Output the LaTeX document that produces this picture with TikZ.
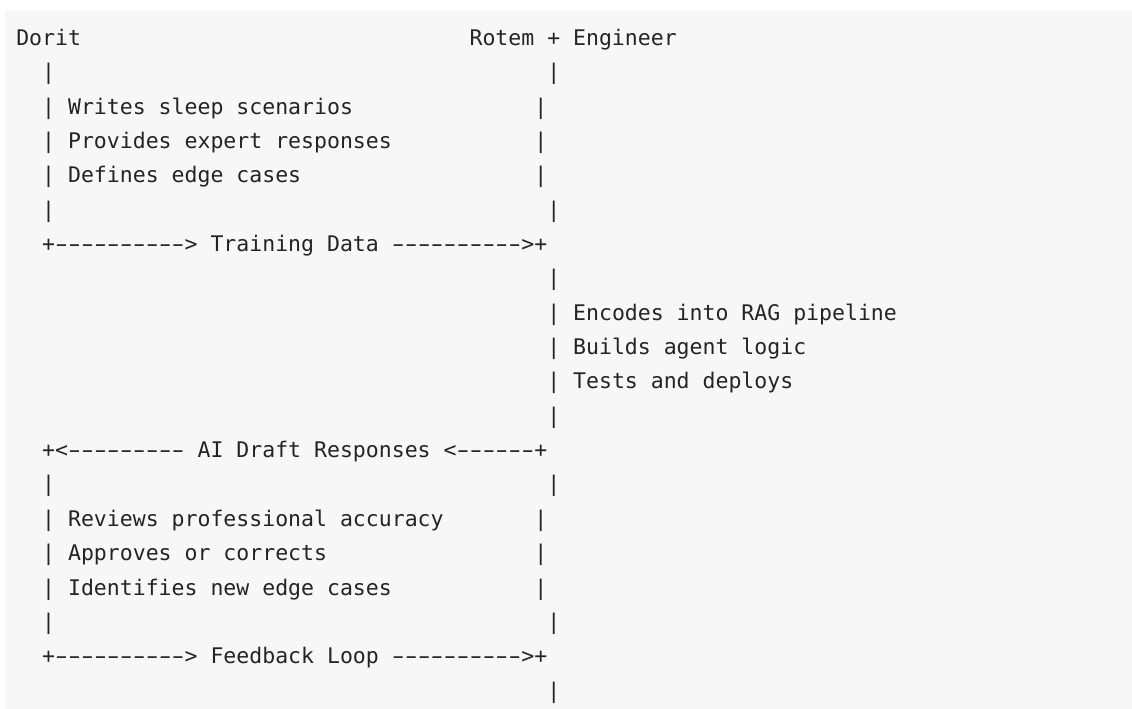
\documentclass[tikz,border=0pt]{standalone}
\usepackage{fontspec}
\usepackage{graphicx}
\setmonofont{DejaVu Sans Mono}
\definecolor{bg}{RGB}{247,247,247}
\definecolor{ink}{RGB}{36,36,36}
\tikzset{
  txt/.style={anchor=base west, inner sep=0pt, outer sep=0pt, text=ink,
    font={\ttfamily\fontsize{21.51pt}{34.35pt}\selectfont}}
}
\newcount\dshcnt
\newcommand\dsh{\hbox to 12.95pt{\hss\scalebox{1.65}[1]{-}\hss}}
\newcommand\dashes[1]{\dshcnt=0 \loop\ifnum\dshcnt<#1 \dsh\advance\dshcnt by 1 \repeat}
\newcommand\asc[4]{\node[txt] (#1) at ({(16.3+12.95*#2)*1pt},{-(45.4+34.35*#3)*1pt}) {#4};}
\begin{document}
\begin{tikzpicture}[x=1pt,y=1pt]
\useasboundingbox (0,0) rectangle (1132,-709);
\fill[white] (0,0) rectangle (1132,-709);
\fill[bg] (5,-10) rectangle (1132,-709);
\asc{dorit}{0}{0}{Dorit}
\asc{rotem}{35}{0}{Rotem + Engineer}
\asc{l1a}{2}{1}{|}
\asc{l1b}{41}{1}{|}
\asc{l2a}{2}{2}{| Writes sleep scenarios}
\asc{l2b}{40}{2}{|}
\asc{l3a}{2}{3}{| Provides expert responses}
\asc{l3b}{40}{3}{|}
\asc{l4a}{2}{4}{| Defines edge cases}
\asc{l4b}{40}{4}{|}
\asc{l5a}{2}{5}{|}
\asc{l5b}{41}{5}{|}
\asc{train}{2}{6}{+\dashes{10}> Training Data \dashes{10}>+}
\asc{l7}{41}{7}{|}
\asc{l8}{41}{8}{| Encodes into RAG pipeline}
\asc{l9}{41}{9}{| Builds agent logic}
\asc{l10}{41}{10}{| Tests and deploys}
\asc{l11}{41}{11}{|}
\asc{draft}{2}{12}{+<\dashes{9} AI Draft Responses <\dashes{6}+}
\asc{l13a}{2}{13}{|}
\asc{l13b}{41}{13}{|}
\asc{l14a}{2}{14}{| Reviews professional accuracy}
\asc{l14b}{40}{14}{|}
\asc{l15a}{2}{15}{| Approves or corrects}
\asc{l15b}{40}{15}{|}
\asc{l16a}{2}{16}{| Identifies new edge cases}
\asc{l16b}{40}{16}{|}
\asc{l17a}{2}{17}{|}
\asc{l17b}{41}{17}{|}
\asc{feed}{2}{18}{+\dashes{10}> Feedback Loop \dashes{10}>+}
\asc{l19}{41}{19}{|}
\end{tikzpicture}
\end{document}
